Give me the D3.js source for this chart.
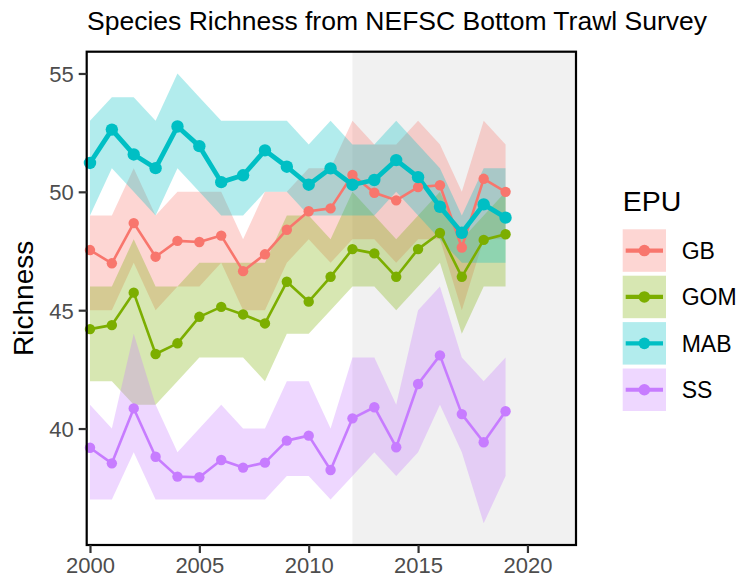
<!DOCTYPE html>
<html>
<head>
<meta charset="utf-8">
<script src="https://d3js.org/d3.v7.min.js"></script>
<style>
  body { margin: 0; background: #fff; }
  svg text { font-family: "Liberation Sans", Arial, Helvetica, sans-serif; }
</style>
</head>
<body>
<div id="chart"></div>
<script>
// survey years
const years = [2000, 2001, 2002, 2003, 2004, 2005, 2006, 2007, 2008, 2009,
               2010, 2011, 2012, 2013, 2014, 2015, 2016, 2017, 2018, 2019];
const epus = ["GB", "GOM", "MAB", "SS"];
const epuColors = ["#F8766D", "#7CAE00", "#00BFC4", "#C77CFF"];

// mean richness per EPU
const gbMean  = [47.54, 46.98, 48.68, 47.26, 47.93, 47.88, 48.15, 46.65, 47.36, 48.4, 49.18, 49.3, 50.71, 49.96, 49.64, 50.2, 50.28, 47.65, 50.55, 50.0];
const gomMean = [44.2, 44.37, 45.74, 43.15, 43.6, 44.72, 45.14, 44.82, 44.44, 46.2, 45.36, 46.41, 47.58, 47.4, 46.41, 47.58, 48.26, 46.41, 47.97, 48.21];
const mabMean = [51.22, 52.63, 51.58, 51.0, 52.76, 51.93, 50.41, 50.7, 51.75, 51.06, 50.3, 50.99, 50.3, 50.5, 51.34, 50.62, 49.37, 48.27, 49.47, 48.91];
const ssMean  = [39.19, 38.53, 40.85, 38.81, 37.97, 37.94, 38.67, 38.35, 38.56, 39.49, 39.7, 38.25, 40.43, 40.9, 39.21, 41.88, 43.09, 40.61, 39.42, 40.73];

// ribbon bounds
const gbUpper  = [49, 49, 51, 49, 50, 50, 50, 48, 50, 50, 51, 51, 53, 52, 52, 53, 52, 50, 53, 52];
const gbLower  = [45, 45, 47, 45, 46, 46, 47, 45, 45, 47, 48, 47, 48, 48, 47, 48, 48, 45, 48, 48];
const gomUpper = [46, 46, 48, 46, 46, 47, 47, 47, 47, 49, 49, 48, 50, 49, 48, 49, 50, 48, 49, 50];
const gomLower = [42, 42, 41, 41, 42, 43, 43, 43, 42, 44, 44, 45, 46, 46, 45, 46, 47, 44, 46, 46];
const mabUpper = [53, 54, 54, 53, 55, 54, 53, 53, 53, 53, 52, 53, 52, 52, 53, 52, 51, 49, 51, 51];
const mabLower = [49, 51, 50, 49, 51, 50, 49, 49, 50, 50, 49, 49, 49, 49, 50, 49, 48, 47, 47, 47];
const ssUpper  = [41, 40, 44, 41, 39, 40, 41, 40, 40, 42, 42, 40, 43, 43, 41, 45, 46, 43, 42, 43];
const ssLower  = [37, 37, 39, 37, 37, 37, 37, 37, 37, 38, 38, 37, 38, 39, 38, 39, 41, 39, 36, 38];

// shaded period
const shadeStart = 2012;

const xTicks = [2000, 2005, 2010, 2015, 2020];
const yTicks = [40, 45, 50, 55];

const chartTitle = "Species Richness from NEFSC Bottom Trawl Survey";
const yTitle = "Richness";
const legendTitle = "EPU";

const width = 737, height = 581;
const panel = { left: 86.7, right: 576, top: 51.7, bottom: 545 };

const series = [
  { name: epus[0], color: epuColors[0], mean: gbMean,  lo: gbLower,  hi: gbUpper,  lw: 2.6, r: 5.2 },
  { name: epus[1], color: epuColors[1], mean: gomMean, lo: gomLower, hi: gomUpper, lw: 2.6, r: 5.2 },
  { name: epus[2], color: epuColors[2], mean: mabMean, lo: mabLower, hi: mabUpper, lw: 4.8, r: 6.2 },
  { name: epus[3], color: epuColors[3], mean: ssMean,  lo: ssLower,  hi: ssUpper,  lw: 2.6, r: 5.2 }
];

const svg = d3.select("#chart").append("svg")
  .attr("width", width)
  .attr("height", height);

const x = d3.scaleLinear().domain([1999.85, 2022.22]).range([panel.left, panel.right]);
const y = d3.scaleLinear().domain([35.08, 55.92]).range([panel.bottom, panel.top]);

// grey box for recent years
svg.append("rect")
  .attr("x", x(shadeStart))
  .attr("y", panel.top)
  .attr("width", panel.right - x(shadeStart))
  .attr("height", panel.bottom - panel.top)
  .attr("fill", "#f1f1f1");

const area = d3.area()
  .x((d, i) => x(years[i]))
  .y0(d => y(d[0]))
  .y1(d => y(d[1]));

const line = d3.line()
  .x((d, i) => x(years[i]))
  .y(d => y(d));

series.forEach(s => {
  svg.append("path")
    .datum(s.lo.map((v, i) => [v, s.hi[i]]))
    .attr("d", area)
    .attr("fill", s.color)
    .attr("fill-opacity", 0.3);
});

series.forEach(s => {
  svg.append("path")
    .datum(s.mean)
    .attr("d", line)
    .attr("fill", "none")
    .attr("stroke", s.color)
    .attr("stroke-width", s.lw)
    .attr("stroke-linejoin", "round");
});

series.forEach(s => {
  svg.append("g").selectAll("circle")
    .data(s.mean)
    .join("circle")
    .attr("cx", (d, i) => x(years[i]))
    .attr("cy", d => y(d))
    .attr("r", s.r)
    .attr("fill", s.color);
});

// panel border
svg.append("rect")
  .attr("x", panel.left)
  .attr("y", panel.top)
  .attr("width", panel.right - panel.left)
  .attr("height", panel.bottom - panel.top)
  .attr("fill", "none")
  .attr("stroke", "#000")
  .attr("stroke-width", 2.2);

// axes
const xAxis = svg.append("g")
  .attr("transform", `translate(0,${panel.bottom})`)
  .call(d3.axisBottom(x).tickValues(xTicks).tickFormat(d3.format("d")).tickSize(8).tickPadding(2));
const yAxis = svg.append("g")
  .attr("transform", `translate(${panel.left},0)`)
  .call(d3.axisLeft(y).tickValues(yTicks).tickSize(8).tickPadding(5));

[xAxis, yAxis].forEach(g => {
  g.select(".domain").remove();
  g.selectAll(".tick line").attr("stroke", "#333").attr("stroke-width", 2.2);
  g.selectAll(".tick text")
    .attr("fill", "#4d4d4d")
    .style("font-size", "22px");
});
xAxis.selectAll(".tick text").attr("dy", "0.8em");
yAxis.selectAll(".tick text").attr("dy", "0.36em");

// titles
svg.append("text")
  .attr("x", 87)
  .attr("y", 30)
  .style("font-size", "26.5px")
  .attr("fill", "#000")
  .text(chartTitle);

svg.append("text")
  .attr("transform", `translate(33,${(panel.top + panel.bottom) / 2}) rotate(-90)`)
  .attr("text-anchor", "middle")
  .style("font-size", "28px")
  .attr("fill", "#000")
  .text(yTitle);

// legend
const legend = svg.append("g").attr("transform", "translate(622.7,0)");
legend.append("text")
  .attr("x", 0)
  .attr("y", 210.5)
  .style("font-size", "28.5px")
  .text(legendTitle);

const keyW = 43.3, keyH = 42.5, keyStep = 46.4, keyTop = 229.3;
const keys = legend.selectAll("g.key")
  .data(series)
  .join("g")
  .attr("class", "key")
  .attr("transform", (d, i) => `translate(0,${keyTop + i * keyStep})`);

keys.append("rect")
  .attr("width", keyW)
  .attr("height", keyH)
  .attr("fill", d => d.color)
  .attr("fill-opacity", 0.3);
keys.append("line")
  .attr("x1", 3).attr("x2", keyW - 3)
  .attr("y1", keyH / 2).attr("y2", keyH / 2)
  .attr("stroke", d => d.color)
  .attr("stroke-width", 4.2);
keys.append("circle")
  .attr("cx", keyW / 2)
  .attr("cy", keyH / 2)
  .attr("r", 5.8)
  .attr("fill", d => d.color);
keys.append("text")
  .attr("x", 59)
  .attr("y", keyH / 2)
  .attr("dy", "0.36em")
  .style("font-size", "23px")
  .text(d => d.name);
</script>
</body>
</html>
